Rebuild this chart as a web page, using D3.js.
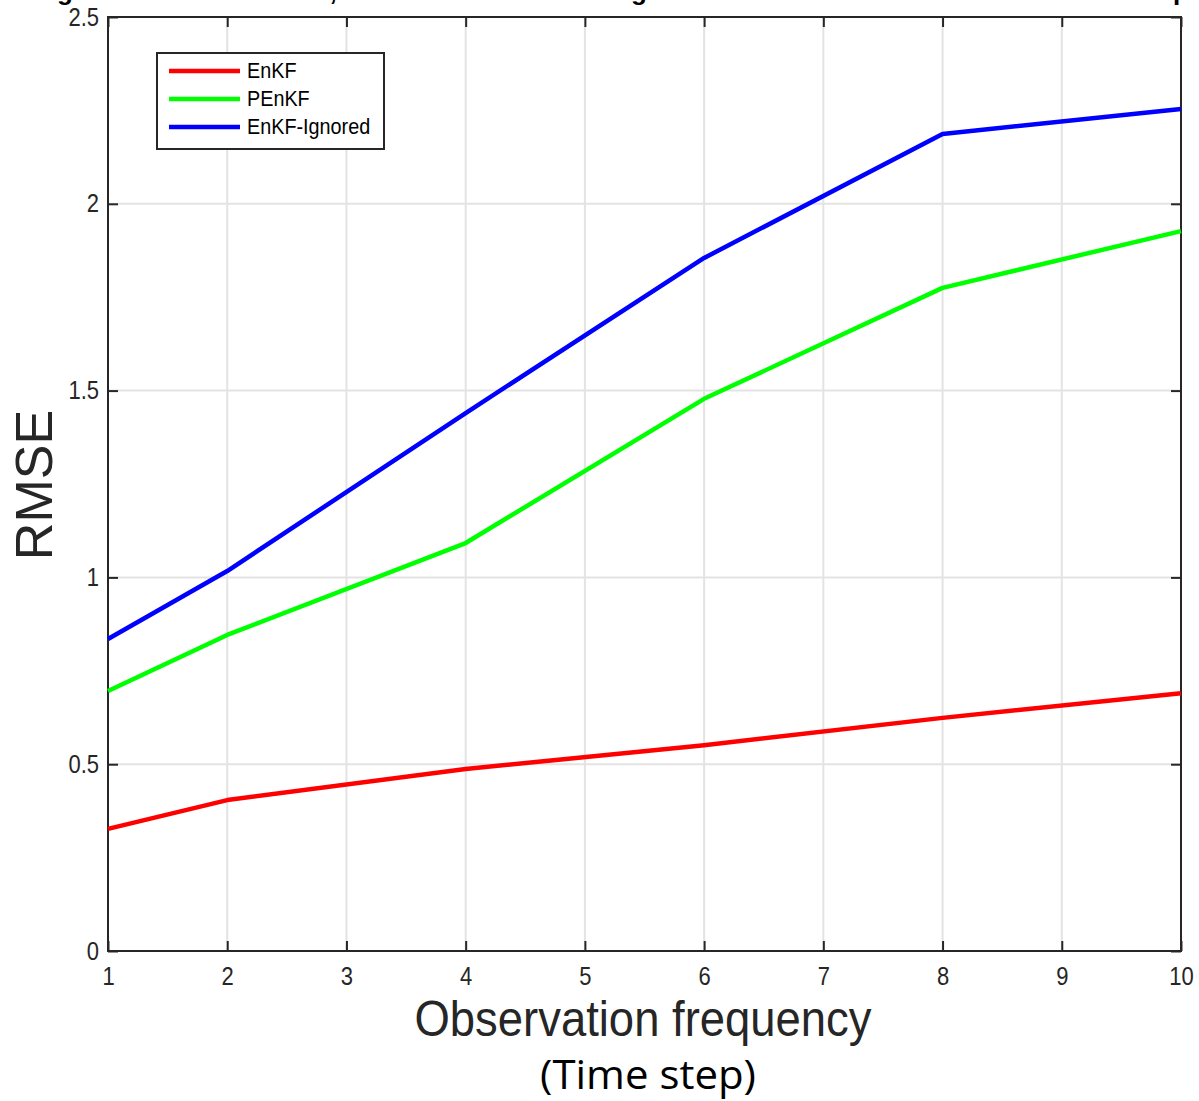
<!DOCTYPE html>
<html>
<head>
<meta charset="utf-8">
<script src="https://cdn.jsdelivr.net/npm/d3@7"></script>
<style>
  html, body { margin: 0; padding: 0; background: #fff; }
  svg { display: block; }
</style>
</head>
<body>
<svg id="chart" width="1199" height="1101" font-family="Liberation Sans, Arial, Helvetica, sans-serif"></svg>
<script>
// ---- data ----
const frequencies = [1, 2, 4, 6, 8, 10];
const enkf        = [0.327, 0.404, 0.487, 0.551, 0.624, 0.690];
const penkf       = [0.696, 0.846, 1.092, 1.478, 1.775, 1.927];
const enkfIgnored = [0.835, 1.017, 1.440, 1.855, 2.187, 2.254];
const seriesNames = ["EnKF", "PEnKF", "EnKF-Ignored"];
const seriesColors = ["#ff0000", "#00ff00", "#0000ff"];
const xTicks = [1, 2, 3, 4, 5, 6, 7, 8, 9, 10];
const yTicks = [0, 0.5, 1, 1.5, 2, 2.5];
const xLabel = "Observation frequency";
const xSubLabel = "(Time step)";
const yLabel = "RMSE";

(function () {
const series = [enkf, penkf, enkfIgnored].map((vals, i) => ({
  name: seriesNames[i], color: seriesColors[i],
  points: frequencies.map((f, j) => ({ x: f, y: vals[j] }))
}));

const svg = d3.select("#chart");
const pL = 108, pR = 1181, pT = 17, pB = 951;
const x = d3.scaleLinear().domain([1, 10]).range([pL, pR]);
const y = d3.scaleLinear().domain([0, 2.5]).range([pB, pT]);
const sansFont = "Liberation Sans, Arial, Helvetica, sans-serif";

// clipped title fragments at the very top (title lies mostly above the image)
const frag = svg.append("g").attr("font-weight", "bold").attr("font-size", 26);
[["g", 65], [",", 333], ["g", 639], ["p", 1181]].forEach(([t, px]) => {
  frag.append("text").attr("x", px).attr("y", 0).attr("text-anchor", "middle")
    .attr("fill", "#000").text(t);
});

// grid
const grid = svg.append("g").attr("stroke", "#e3e3e3").attr("stroke-width", 2);
grid.selectAll("line.v").data(xTicks).join("line").attr("class", "v")
  .attr("x1", d => x(d)).attr("x2", d => x(d)).attr("y1", pT).attr("y2", pB);
grid.selectAll("line.h").data(yTicks).join("line").attr("class", "h")
  .attr("y1", d => y(d)).attr("y2", d => y(d)).attr("x1", pL).attr("x2", pR);

// axes (ticks inward)
const tickLen = 10;
const axColor = "#262626";
function styleAxis(g) {
  g.select(".domain").remove();
  g.attr("font-family", sansFont);
  g.selectAll(".tick line").attr("stroke", axColor).attr("stroke-width", 2);
}
svg.append("g").attr("transform", `translate(0,${pB})`)
  .call(d3.axisBottom(x).tickValues(xTicks).tickSize(-tickLen).tickFormat(d3.format("d")).tickPadding(15))
  .call(styleAxis)
  .call(g => g.selectAll(".tick text").attr("font-size", 25).attr("fill", axColor)
    .attr("transform", "scale(0.88,1)").attr("x", 0).attr("dy", "0.75em"));
svg.append("g").attr("transform", `translate(0,${pT})`)
  .call(d3.axisTop(x).tickValues(xTicks).tickSize(-tickLen).tickFormat(""))
  .call(styleAxis);
svg.append("g").attr("transform", `translate(${pL},0)`)
  .call(d3.axisLeft(y).tickValues(yTicks).tickSize(-tickLen).tickFormat(d => d3.format("")(d)))
  .call(styleAxis)
  .call(g => g.selectAll(".tick text").attr("font-size", 25).attr("fill", axColor)
    .attr("transform", "scale(0.88,1)").attr("x", -9 / 0.88));
svg.append("g").attr("transform", `translate(${pR},0)`)
  .call(d3.axisRight(y).tickValues(yTicks).tickSize(-tickLen).tickFormat(""))
  .call(styleAxis);

// frame
svg.append("rect").attr("x", pL).attr("y", pT)
  .attr("width", pR - pL).attr("height", pB - pT)
  .attr("fill", "none").attr("stroke", axColor).attr("stroke-width", 2);

// lines
const line = d3.line().x(d => x(d.x)).y(d => y(d.y));
svg.append("g").selectAll("path").data(series).join("path")
  .attr("d", d => line(d.points))
  .attr("fill", "none").attr("stroke", d => d.color)
  .attr("stroke-width", 4.5).attr("stroke-linejoin", "round");

// legend
const lg = svg.append("g");
lg.append("rect").attr("x", 157).attr("y", 53).attr("width", 227).attr("height", 96)
  .attr("fill", "#fff").attr("stroke", axColor).attr("stroke-width", 2);
series.forEach((s, i) => {
  const ly = 71 + i * 28;
  lg.append("line").attr("x1", 169).attr("x2", 240).attr("y1", ly).attr("y2", ly)
    .attr("stroke", s.color).attr("stroke-width", 4.5);
  lg.append("text").attr("x", 247 / 0.9).attr("y", ly + 7)
    .attr("transform", "scale(0.9,1)")
    .attr("font-size", 22).attr("fill", "#000").text(s.name);
});

// axis labels
svg.append("text").attr("x", 643).attr("y", 1036).attr("text-anchor", "middle")
  .attr("font-size", 50).attr("textLength", 457).attr("lengthAdjust", "spacingAndGlyphs")
  .attr("fill", axColor).text(xLabel);
svg.append("text").attr("x", 648).attr("y", 1089).attr("text-anchor", "middle")
  .attr("font-family", "Open Sans, Noto Sans, sans-serif")
  .attr("font-size", 40).attr("textLength", 216).attr("lengthAdjust", "spacingAndGlyphs")
  .attr("fill", "#000").text(xSubLabel);
svg.append("text").attr("transform", "translate(52,485) rotate(-90)")
  .attr("text-anchor", "middle").attr("font-size", 52)
  .attr("fill", axColor).text(yLabel);
})();
</script>
</body>
</html>
